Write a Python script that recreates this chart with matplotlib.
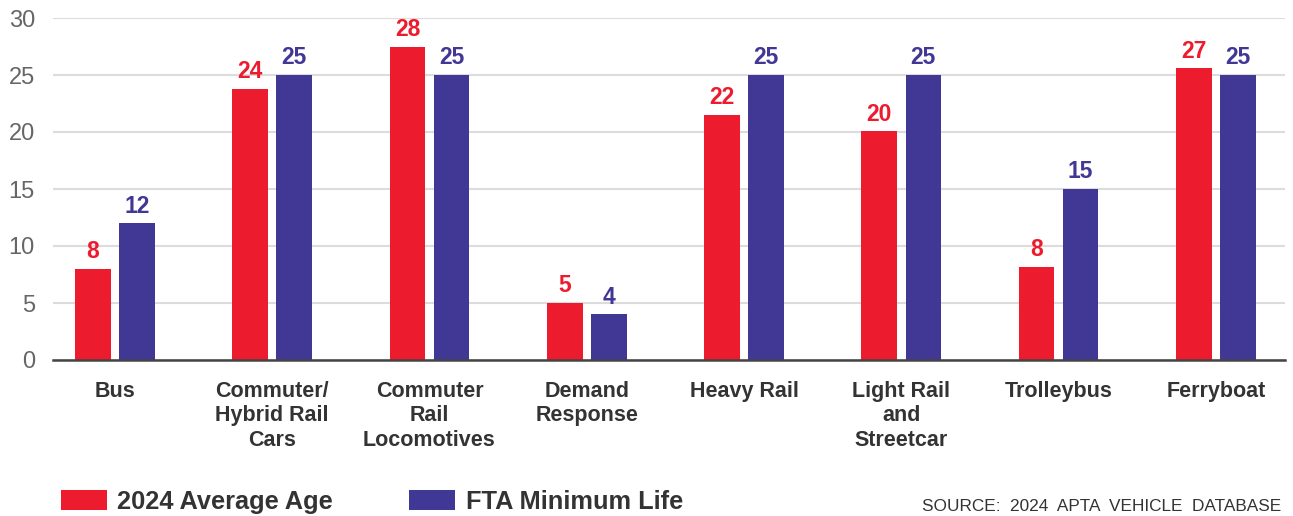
import matplotlib

matplotlib.use("Agg")
import matplotlib.pyplot as plt
import numpy as np

categories = [
    "Bus",
    "Commuter/\nHybrid Rail\nCars",
    "Commuter\nRail\nLocomotives",
    "Demand\nResponse",
    "Heavy Rail",
    "Light Rail\nand\nStreetcar",
    "Trolleybus",
    "Ferryboat",
]
average_age = [8.0, 23.8, 27.5, 5.0, 21.5, 20.05, 8.2, 25.6]
average_age_labels = ["8", "24", "28", "5", "22", "20", "8", "27"]
minimum_life = [12, 25, 25, 4, 25, 25, 15, 25]
minimum_life_labels = ["12", "25", "25", "4", "25", "25", "15", "25"]
y_ticks = [0, 5, 10, 15, 20, 25, 30]

RED = "#ED1B2E"
BLUE = "#413795"
TEXT = "#333333"
FONT = ["Liberation Sans", "DejaVu Sans"]

fig = plt.figure(figsize=(12.93, 5.16), dpi=100)
ax = fig.add_axes([53 / 1293, 1 - 360 / 516, (1285 - 53) / 1293, (360 - 18) / 516])

x = np.arange(len(categories))
width = 0.226
offset = 0.14

red_bars = ax.bar(x - offset, average_age, width, color=RED, label="2024 Average Age", zorder=3)
blue_bars = ax.bar(x + offset, minimum_life, width, color=BLUE, label="FTA Minimum Life", zorder=3)

for bars, labels, color in ((red_bars, average_age_labels, RED), (blue_bars, minimum_life_labels, BLUE)):
    for bar, text in zip(bars, labels):
        ax.annotate(
            text,
            (bar.get_x() + bar.get_width() / 2, bar.get_height()),
            xytext=(0, 4),
            textcoords="offset points",
            ha="center",
            va="bottom",
            color=color,
            fontsize=16.5,
            fontweight="bold",
            family=FONT,
        )

ax.set_xlim(-0.394, 7.44)
ax.set_ylim(0, 30)
ax.set_yticks(y_ticks)
ax.set_yticklabels([str(v) for v in y_ticks], fontsize=17, color="#666666", family=FONT)
ax.set_xticks(x)
ax.set_xticklabels(
    categories,
    fontsize=15.5,
    fontweight="bold",
    color=TEXT,
    family=FONT,
    linespacing=1.22,
    va="top",
)
ax.tick_params(axis="both", length=0)
ax.tick_params(axis="x", pad=15)
ax.tick_params(axis="y", pad=13)

ax.grid(True, axis="y", color="#DCDCDC", linewidth=1.5, zorder=0)
for side in ("top", "right", "left"):
    ax.spines[side].set_visible(False)
ax.spines["bottom"].set_color("#444444")
ax.spines["bottom"].set_linewidth(1.8)
ax.spines["bottom"].set_zorder(4)

fig.legend(
    handles=[red_bars, blue_bars],
    loc="lower left",
    bbox_to_anchor=(61 / 1293, 2 / 516),
    ncol=2,
    frameon=False,
    borderpad=0,
    borderaxespad=0,
    handlelength=1.8,
    handleheight=0.8,
    handletextpad=0.42,
    columnspacing=3.0,
    prop={"family": FONT, "weight": "bold", "size": 18.3},
    labelcolor=TEXT,
)

fig.text(
    1281 / 1293,
    5 / 516,
    "SOURCE:  2024  APTA  VEHICLE  DATABASE",
    ha="right",
    va="baseline",
    fontsize=12.4,
    color=TEXT,
    family=FONT,
)

fig.savefig("out.png", dpi=100)
